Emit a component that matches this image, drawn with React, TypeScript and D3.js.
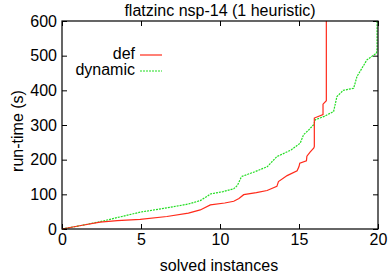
import React, { useEffect, useRef } from 'react';
import * as d3 from 'd3';

// run-time (s) against number of solved instances
const defX = [0, 1.2, 2.41, 3.5, 4.95, 6.64, 8.0, 8.75, 9.39, 10.3, 10.87, 11.2, 11.5, 12.3, 12.98, 13.6, 13.7, 14.25, 14.88, 15.0, 15.05, 15.47, 15.5, 15.7, 15.94, 15.97, 15.97, 16.52, 16.52, 16.73, 16.73];
const defY = [0, 10, 20, 24, 27.6, 36, 46, 55, 69.5, 75, 80, 88, 99, 105, 111, 123, 137, 154, 168, 180, 190, 197, 210, 222, 234, 238, 320, 330, 360, 370, 600];

const dynX = [0, 1.2, 2.41, 3.5, 4.95, 6.5, 8.0, 8.75, 9.18, 9.39, 10.2, 10.87, 11.1, 11.33, 11.4, 12.2, 13.0, 13.6, 13.8, 14.5, 15.08, 15.29, 15.6, 15.93, 16.03, 16.6, 17.19, 17.4, 17.8, 18.46, 18.67, 19.0, 19.3, 19.9, 19.94, 19.94];
const dynY = [0, 10, 21, 33, 48.6, 60, 72, 82, 94, 101, 108, 116, 125.7, 148, 152, 165, 180, 209, 213, 228, 248, 272, 285, 301, 315, 325, 339, 382, 400, 406, 440, 465, 488, 507, 520, 600];

const xTicks = [0, 5, 10, 15, 20];
const yTicks = [0, 100, 200, 300, 400, 500, 600];

const seriesNames = ['def', 'dynamic'];
const seriesColors = ['#ff2a1a', '#22dd22'];

export default function App() {
  const svgRef = useRef<SVGSVGElement>(null);

  useEffect(() => {
    const svg = d3.select(svgRef.current);
    svg.selectAll('*').remove();

    const margin = { top: 21, right: 12, bottom: 51, left: 62 };
    const width = 390 - margin.left - margin.right;
    const height = 280 - margin.top - margin.bottom;
    const font = 'Liberation Sans, Arial, Helvetica, sans-serif';
    const fontSize = '16px';

    const x = d3.scaleLinear().domain([0, 20]).range([0, width]);
    const y = d3.scaleLinear().domain([0, 600]).range([height, 0]);

    const g = svg
      .append('g')
      .attr('transform', 'translate(' + margin.left + ',' + margin.top + ')');

    // gnuplot style inward ticks on all four sides
    const tickLen = 5;
    g.append('g')
      .attr('transform', 'translate(0,' + height + ')')
      .call(d3.axisBottom(x).tickValues(xTicks).tickSize(-tickLen).tickPadding(5))
      .call((a) => a.select('.domain').remove());
    g.append('g')
      .call(d3.axisTop(x).tickValues(xTicks).tickSize(-tickLen).tickFormat(() => ''))
      .call((a) => a.select('.domain').remove());
    g.append('g')
      .call(d3.axisLeft(y).tickValues(yTicks).tickSize(-tickLen).tickPadding(5))
      .call((a) => a.select('.domain').remove());
    g.append('g')
      .attr('transform', 'translate(' + width + ',0)')
      .call(d3.axisRight(y).tickValues(yTicks).tickSize(-tickLen).tickFormat(() => ''))
      .call((a) => a.select('.domain').remove());

    g.selectAll('.tick line').attr('stroke', '#000').attr('stroke-width', 1);
    g.selectAll('.tick text')
      .attr('fill', '#000')
      .style('font-family', font)
      .style('font-size', fontSize);

    const line = d3
      .line<[number, number]>()
      .x((d) => x(d[0]))
      .y((d) => y(d[1]));

    const defPts = defX.map((v, i) => [v, defY[i]] as [number, number]);
    const dynPts = dynX.map((v, i) => [v, dynY[i]] as [number, number]);

    g.append('path')
      .datum(dynPts)
      .attr('d', line)
      .attr('fill', 'none')
      .attr('stroke', seriesColors[1])
      .attr('stroke-width', 1.2)
      .attr('stroke-dasharray', '2,1');

    g.append('path')
      .datum(defPts)
      .attr('d', line)
      .attr('fill', 'none')
      .attr('stroke', seriesColors[0])
      .attr('stroke-width', 1.2);

    // frame
    g.append('rect')
      .attr('width', width)
      .attr('height', height)
      .attr('fill', 'none')
      .attr('stroke', '#000')
      .attr('stroke-width', 1.2);

    // legend
    const legend = g
      .selectAll('.legend')
      .data(seriesNames)
      .enter()
      .append('g')
      .attr('transform', (d, i) => 'translate(0,' + (34 + i * 16) + ')');
    legend
      .append('text')
      .attr('x', 73)
      .attr('y', 4)
      .attr('text-anchor', 'end')
      .style('font-family', font)
      .style('font-size', fontSize)
      .text((d) => d);
    legend
      .append('line')
      .attr('x1', 78)
      .attr('x2', 100)
      .attr('y1', 0)
      .attr('y2', 0)
      .attr('stroke', (d, i) => seriesColors[i])
      .attr('stroke-width', 1.2)
      .attr('stroke-dasharray', (d, i) => (i === 1 ? '2,1' : null));

    // titles
    svg
      .append('text')
      .attr('x', 220)
      .attr('y', 16)
      .attr('text-anchor', 'middle')
      .style('font-family', font)
      .style('font-size', fontSize)
      .text('flatzinc nsp-14 (1 heuristic)');
    svg
      .append('text')
      .attr('x', 219)
      .attr('y', 271)
      .attr('text-anchor', 'middle')
      .style('font-family', font)
      .style('font-size', fontSize)
      .text('solved instances');
    svg
      .append('text')
      .attr('transform', 'translate(23,131)rotate(-90)')
      .attr('text-anchor', 'middle')
      .style('font-family', font)
      .style('font-size', fontSize)
      .text('run-time (s)');
  }, []);

  return (
    <svg
      ref={svgRef}
      width={390}
      height={280}
      style={{ position: 'absolute', left: 0, top: 0, background: '#fff' }}
    />
  );
}
